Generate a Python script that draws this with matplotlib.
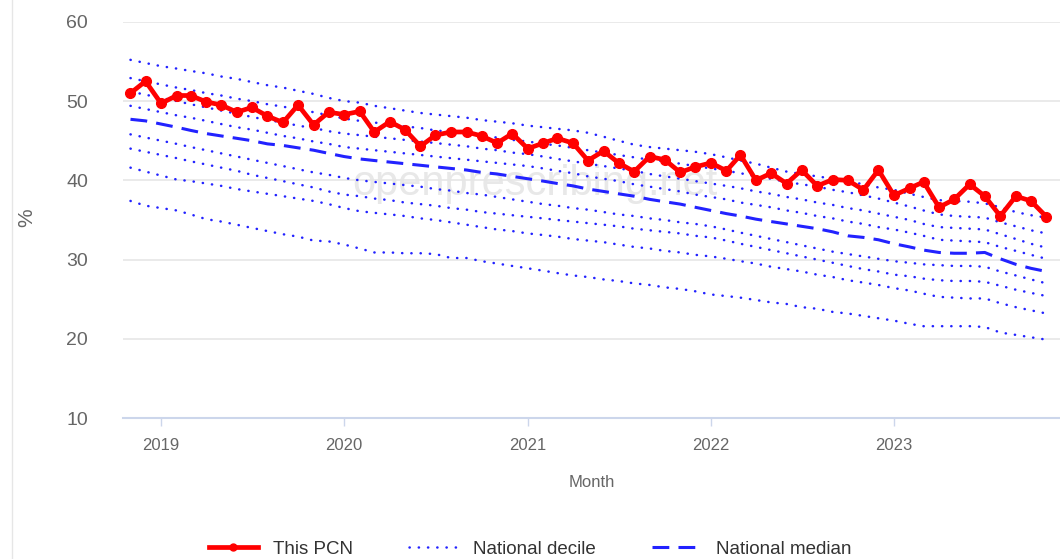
import matplotlib.pyplot as plt
import matplotlib.lines as mlines
import pandas as pd

plt.rcParams['font.family'] = ['Liberation Sans', 'DejaVu Sans']

months = pd.date_range('2018-11-01', '2023-11-01', freq='MS')

this_pcn = [51.0, 52.5, 49.7, 50.7, 50.7, 49.9, 49.5, 48.6, 49.2, 48.1, 47.3, 49.5, 47.0, 48.6, 48.3,
            48.7, 46.1, 47.4, 46.4, 44.3, 45.7, 46.1, 46.1, 45.6, 44.7, 45.9, 44.0, 44.7, 45.3, 44.7,
            42.5, 43.7, 42.2, 41.1, 43.0, 42.6, 41.0, 41.7, 42.2, 41.2, 43.2, 40.0, 40.9, 39.6, 41.3,
            39.3, 40.1, 40.0, 38.8, 41.3, 38.1, 39.0, 39.8, 36.6, 37.6, 39.5, 38.0, 35.5, 38.0, 37.4,
            35.4]

median = [47.7, 47.5, 47.1, 46.7, 46.3, 45.9, 45.6, 45.3, 45.0, 44.6, 44.4, 44.1, 43.8, 43.4, 43.0,
          42.7, 42.5, 42.3, 42.1, 41.9, 41.7, 41.5, 41.3, 41.0, 40.8, 40.5, 40.2, 39.9, 39.6, 39.3,
          38.9, 38.6, 38.3, 38.0, 37.6, 37.3, 37.0, 36.6, 36.2, 35.8, 35.5, 35.1, 34.8, 34.5, 34.2,
          33.9, 33.5, 33.0, 32.8, 32.5, 32.0, 31.6, 31.2, 30.9, 30.8, 30.8, 30.9, 30.1, 29.4, 28.9,
          28.5]

p90 = [55.2, 54.8, 54.4, 54.1, 53.8, 53.5, 53.1, 52.8, 52.4, 52.0, 51.7, 51.3, 50.9, 50.4, 50.0,
       49.8, 49.4, 49.1, 48.8, 48.5, 48.3, 48.1, 47.9, 47.6, 47.4, 47.2, 46.9, 46.7, 46.5, 46.3,
       46.0, 45.5, 45.0, 44.5, 44.2, 44.0, 43.8, 43.6, 43.3, 42.9, 42.5, 42.1, 41.6, 41.1, 40.8,
       40.5, 40.2, 39.9, 39.5, 39.1, 38.8, 38.3, 37.9, 37.5, 37.4, 37.3, 37.1, 36.6, 36.0, 35.6,
       35.3]
p80 = [52.9, 52.5, 52.1, 51.7, 51.4, 51.0, 50.7, 50.3, 50.0, 49.6, 49.3, 48.9, 48.6, 48.2, 47.8,
       47.5, 47.3, 47.0, 46.8, 46.6, 46.3, 46.1, 45.9, 45.6, 45.4, 45.1, 44.9, 44.6, 44.4, 44.1,
       43.8, 43.5, 43.2, 42.9, 42.6, 42.4, 42.1, 41.8, 41.5, 41.2, 40.9, 40.5, 40.2, 39.8, 39.5,
       39.2, 38.8, 38.5, 38.1, 37.7, 37.2, 36.7, 36.2, 35.7, 35.5, 35.4, 35.3, 34.7, 34.2, 33.7,
       33.3]
p70 = [51.2, 50.8, 50.4, 50.0, 49.6, 49.2, 48.8, 48.4, 48.0, 47.6, 47.3, 46.9, 46.6, 46.2, 45.9,
       45.7, 45.5, 45.3, 45.1, 44.9, 44.7, 44.5, 44.3, 44.0, 43.8, 43.5, 43.3, 43.0, 42.7, 42.4,
       42.1, 41.8, 41.5, 41.2, 40.8, 40.5, 40.2, 39.9, 39.6, 39.3, 39.0, 38.6, 38.3, 37.9, 37.6,
       37.2, 36.9, 36.5, 36.2, 35.8, 35.4, 35.0, 34.5, 34.1, 34.0, 33.9, 33.8, 33.2, 32.6, 32.0,
       31.5]
p60 = [49.4, 49.0, 48.6, 48.2, 47.9, 47.5, 47.1, 46.7, 46.4, 46.0, 45.6, 45.3, 44.9, 44.6, 44.2,
       44.0, 43.8, 43.6, 43.4, 43.2, 43.0, 42.8, 42.6, 42.4, 42.2, 42.0, 41.8, 41.5, 41.2, 40.9,
       40.5, 40.2, 39.9, 39.5, 39.2, 38.9, 38.6, 38.2, 37.9, 37.6, 37.2, 36.9, 36.6, 36.2, 35.9,
       35.5, 35.2, 34.8, 34.5, 34.1, 33.8, 33.4, 33.0, 32.5, 32.4, 32.3, 32.2, 31.6, 31.1, 30.6,
       30.1]
p40 = [45.8, 45.4, 45.0, 44.6, 44.2, 43.8, 43.4, 43.0, 42.6, 42.2, 41.8, 41.4, 41.0, 40.7, 40.3,
       40.0, 39.8, 39.6, 39.4, 39.2, 38.9, 38.7, 38.4, 38.2, 37.9, 37.6, 37.3, 37.0, 36.8, 36.5,
       36.3, 36.0, 35.7, 35.5, 35.2, 35.0, 34.7, 34.5, 34.2, 33.8, 33.4, 33.0, 32.6, 32.2, 31.8,
       31.4, 31.0, 30.7, 30.4, 30.1, 29.8, 29.6, 29.4, 29.3, 29.2, 29.2, 29.1, 28.5, 28.0, 27.5,
       27.0]
p30 = [44.0, 43.6, 43.2, 42.8, 42.4, 42.0, 41.6, 41.2, 40.7, 40.3, 39.9, 39.5, 39.1, 38.6, 38.2,
       38.0, 37.7, 37.5, 37.2, 37.0, 36.8, 36.5, 36.3, 36.0, 35.8, 35.6, 35.4, 35.2, 35.0, 34.8,
       34.6, 34.4, 34.2, 33.9, 33.7, 33.5, 33.3, 33.0, 32.8, 32.4, 32.0, 31.6, 31.2, 30.8, 30.4,
       30.0, 29.6, 29.2, 28.8, 28.5, 28.1, 27.9, 27.6, 27.4, 27.3, 27.3, 27.2, 26.7, 26.2, 25.8,
       25.4]
p20 = [41.6, 41.1, 40.6, 40.1, 39.9, 39.6, 39.3, 38.9, 38.6, 38.3, 38.0, 37.7, 37.4, 37.0, 36.5,
       36.1, 35.9, 35.7, 35.5, 35.2, 35.0, 34.7, 34.4, 34.1, 33.8, 33.6, 33.3, 33.1, 32.9, 32.6,
       32.4, 32.2, 31.9, 31.6, 31.4, 31.1, 30.9, 30.6, 30.4, 30.1, 29.8, 29.5, 29.1, 28.8, 28.5,
       28.1, 27.8, 27.4, 27.1, 26.8, 26.4, 26.1, 25.7, 25.3, 25.2, 25.1, 25.1, 24.5, 24.0, 23.6,
       23.2]
p10 = [37.4, 36.8, 36.5, 36.2, 35.7, 35.1, 34.8, 34.4, 34.0, 33.6, 33.2, 32.9, 32.4, 32.3, 31.9,
       31.4, 30.9, 30.9, 30.8, 30.8, 30.7, 30.2, 30.2, 29.8, 29.5, 29.2, 28.9, 28.6, 28.3, 28.0,
       27.8, 27.5, 27.3, 27.0, 26.8, 26.5, 26.3, 26.0, 25.6, 25.4, 25.2, 24.9, 24.6, 24.4, 24.0,
       23.8, 23.4, 23.2, 22.9, 22.6, 22.3, 21.9, 21.6, 21.6, 21.6, 21.6, 21.5, 20.8, 20.5, 20.2,
       19.9]

deciles = [p90, p80, p70, p60, p40, p30, p20, p10]
year_ticks = pd.to_datetime(['2019-01-01', '2020-01-01', '2021-01-01', '2022-01-01', '2023-01-01'])
year_labels = ['2019', '2020', '2021', '2022', '2023']

grey = '#666666'
blue = '#2222ff'
dots = (0, (0.1, 3.6))

fig = plt.figure(figsize=(10.6, 5.59), dpi=100)
ax = fig.add_axes([0.116, 0.252, 0.884, 0.709])

for d in deciles:
    ax.plot(months, d, color=blue, lw=1.8, linestyle=dots, dash_capstyle='round', zorder=3)
ax.plot(months, median, color=blue, lw=2.2, linestyle=(0, (5.5, 3)), zorder=3)
ax.plot(months, this_pcn, color='#ff0000', lw=3.4, marker='o', markersize=7, zorder=4)

ax.set_xlim(pd.Timestamp('2018-10-17'), pd.Timestamp('2023-11-28'))
ax.set_ylim(10, 60)
ax.set_yticks([10, 20, 30, 40, 50, 60])
ax.set_xticks(year_ticks)
ax.set_xticklabels(year_labels)

ax.grid(axis='y', color='#e6e6e6', lw=1.2, zorder=0)
for s in ['top', 'right', 'left']:
    ax.spines[s].set_visible(False)
ax.spines['bottom'].set_color('#ccd6eb')
ax.spines['bottom'].set_linewidth(1.5)

ax.tick_params(axis='y', length=0, pad=25, labelsize=14, labelcolor=grey)
ax.tick_params(axis='x', length=6, width=1, color='#ccd6eb', pad=8, labelsize=12, labelcolor=grey)

ax.set_xlabel('Month', fontsize=12, color=grey, labelpad=16)
ax.set_ylabel('%', fontsize=15, color=grey)
ax.yaxis.set_label_coords(-0.093, 0.505)

ax.text(0.44, 0.59, 'openprescribing.net', transform=ax.transAxes, ha='center', va='center',
        fontsize=30, color='#e8e8e8', zorder=1)

fig.add_artist(mlines.Line2D([0.011, 0.011], [0, 1], transform=fig.transFigure, color='#e6e6e6', lw=1))

handles = [
    mlines.Line2D([], [], color='#ff0000', lw=3.4, marker='o', markersize=5),
    mlines.Line2D([], [], color=blue, lw=1.8, linestyle=dots, dash_capstyle='round'),
    mlines.Line2D([], [], color=blue, lw=2.2, linestyle=(0, (5.5, 3))),
]
fig.legend(handles, ['This PCN', 'National decile', 'National median'], loc='lower center',
           bbox_to_anchor=(0.5, -0.028), ncol=3, frameon=False, fontsize=13.5, handlelength=2.6,
           columnspacing=3.0, labelcolor='#333333')

fig.savefig('out.png', dpi=100)
